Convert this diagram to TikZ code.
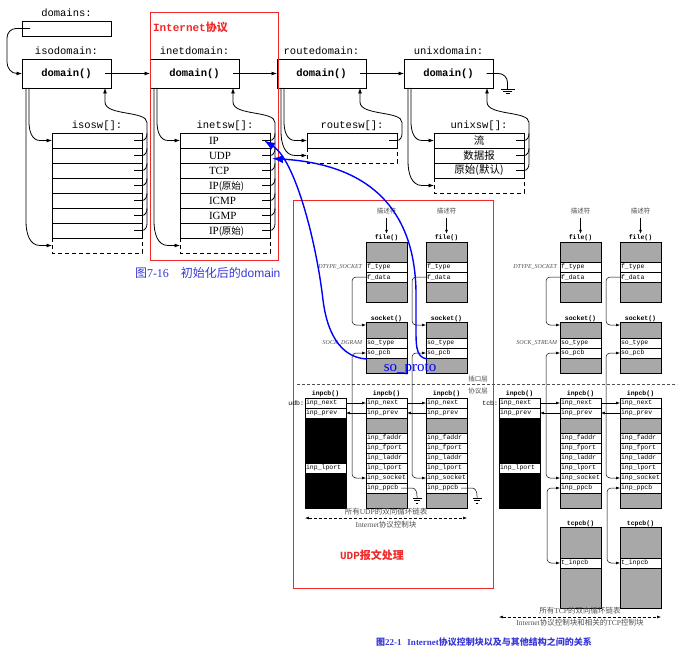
\documentclass[tikz,border=0pt]{standalone}
\usepackage{fontspec}
\setmainfont{Liberation Serif}
\setsansfont{Liberation Sans}
\setmonofont{Liberation Mono}
\newfontfamily\cjk{Noto Sans CJK SC}
\usetikzlibrary{arrows.meta,calc}

\newcommand\fsz[1]{\fontsize{#1}{#1}\selectfont}

\definecolor{frame}{RGB}{240,40,40}
\definecolor{capblue}{RGB}{55,55,215}
\definecolor{texture}{RGB}{168,168,168}
\definecolor{note}{RGB}{80,80,80}

\tikzset{
  every node/.style={inner sep=0pt, outer sep=0pt},
  wire/.style={line width=0.8pt},
  wirearrow/.style={wire, -{Latex[length=5.5pt,width=4pt]}},
  ttlabel/.style={font=\ttfamily\fsz{10.5}, anchor=base},
  dombox/.style={draw, line width=0.8pt, minimum width=89pt, minimum height=29pt, font=\ttfamily\bfseries\fsz{10.5}},
  swrow/.style={draw, line width=0.8pt, minimum width=90pt, minimum height=15pt, anchor=north west},
  swtail/.style={line width=0.8pt, dash pattern=on 4pt off 3pt},
  rowtext/.style={font=\rmfamily\fsz{11}, anchor=base west},
  cell/.style={draw, line width=0.5pt, minimum width=41pt, text width=39pt, inner xsep=1pt, align=left, font=\ttfamily\fsz{6.5}},
  shd/.style={cell, fill=texture},
  blk/.style={cell, fill=black},
  structlbl/.style={font=\ttfamily\bfseries\fsz{6.5}, anchor=base},
  fine/.style={line width=0.5pt},
  finearrow/.style={fine, -{Latex[length=3.8pt,width=2.8pt]}},
  finearrows/.style={fine, {Latex[length=3.8pt,width=2.8pt]}-{Latex[length=3.8pt,width=2.8pt]}},
  desc/.style={font=\cjk\fsz{6.5}, text=note},
  kind/.style={font=\rmfamily\itshape\fsz{6}, text=note, anchor=east},
  ringtext/.style={font=\rmfamily\fsz{7.5}, text=note},
  proto/.style={draw=blue, line width=1.4pt, -{Latex[length=11pt,width=8pt]}},
  redframe/.style={draw=frame, line width=1pt, anchor=north west},
}

% one protocol domain: domain() box, its switch table and the links between them
\newcommand\swgroup[5]{%
  \begin{scope}[shift={(#2,0)}]
    \node[dombox] (#1dom) at (44.5,73.5) {domain()};
    \node[ttlabel] (#1domlbl) at (44.5,55) {#3};
    \node[ttlabel] (#1swlbl) at (75,129) {#4};
    \foreach \i in {1,...,#5} {\node[swrow] (#1\i) at (30,{118+15*\i}) {};}
    \node[swrow, draw=none] (#1tail) at (30,{133+15*#5}) {};
  \end{scope}
  \draw[swtail] (#1tail.north west) -- (#1tail.south west) -- (#1tail.south east) -- (#1tail.north east);
  \foreach \i in {1,...,#5} {\draw[wire] ($(#1\i.east)+(-8,0)$) -- (#1\i.east) to[out=0,in=-90] ++(5,-7);}
  \draw[wirearrow] ($(#1#5.east)+(5,-7)$) -- ($(#11.east)+(5,-18)$)
     .. controls +(0,-12) and +(0,14) .. ($(#1dom.south west)+(83,14)$) -- ($(#1dom.south west)+(83,0)$);
  \draw[wirearrow] ($(#1dom.south west)+(7,0)$) -- ++(0,34) to[out=-90,in=180] ($(#11.west)+(-12,0)$) -- (#11.west);
  \draw[wirearrow] ($(#1dom.south west)+(4,0)$) -- ($(#1tail.west)+(-26,-24)$) to[out=-90,in=180] ($(#1tail.west)+(-12,0)$) -- (#1tail.west);
}

% structure cells
\newcommand\cell[6][cell]{\node[#1, minimum height=#5pt, anchor=north west] (#2) at (#3,#4) {#6};}

\newcommand\filestruct[2]{%
  \node[structlbl] (#1lbl) at (#2+20.5,240) {file()};
  \cell[shd]{#1top}{#2}{242}{20}{}
  \cell{#1type}{#2}{262}{10}{f\_type}
  \cell{#1data}{#2}{272}{10}{f\_data}
  \cell[shd]{#1bot}{#2}{282}{20}{}
}
\newcommand\sockstruct[2]{%
  \node[structlbl] (#1lbl) at (#2+20.5,320) {socket()};
  \cell[shd]{#1top}{#2}{322}{16}{}
  \cell{#1type}{#2}{338}{10}{so\_type}
  \cell{#1pcb}{#2}{348}{10}{so\_pcb}
  \cell[shd]{#1bot}{#2}{358}{15}{}
}
\newcommand\inpcbstruct[2]{%
  \node[structlbl] (#1lbl) at (#2+20.5,395) {inpcb()};
  \cell{#1next}{#2}{398}{10}{inp\_next}
  \cell{#1prev}{#2}{408}{10}{inp\_prev}
  \cell[shd]{#1mid}{#2}{418}{15}{}
  \cell{#1faddr}{#2}{433}{10}{inp\_faddr}
  \cell{#1fport}{#2}{443}{10}{inp\_fport}
  \cell{#1laddr}{#2}{453}{10}{inp\_laddr}
  \cell{#1lport}{#2}{463}{10}{inp\_lport}
  \cell{#1sock}{#2}{473}{10}{inp\_socket}
  \cell{#1ppcb}{#2}{483}{10}{inp\_ppcb}
  \cell[shd]{#1bot}{#2}{493}{15}{}
}
\newcommand\headstruct[2]{%
  \node[structlbl] (#1lbl) at (#2+20.5,395) {inpcb()};
  \cell{#1next}{#2}{398}{10}{inp\_next}
  \cell{#1prev}{#2}{408}{10}{inp\_prev}
  \cell[blk]{#1mid}{#2}{418}{45}{}
  \cell{#1lport}{#2}{463}{10}{inp\_lport}
  \cell[blk]{#1bot}{#2}{473}{35}{}
}
\newcommand\tcpcbstruct[2]{%
  \node[structlbl] (#1lbl) at (#2+20.5,525) {tcpcb()};
  \cell[shd]{#1top}{#2}{527}{31}{}
  \cell{#1inp}{#2}{558}{10}{t\_inpcb}
  \cell[shd]{#1bot}{#2}{568}{40}{}
}
% descriptor -> file -> socket <-> inpcb links of one column
\newcommand\columnlinks[1]{%
  \draw[finearrow] ($(d#1.south)+(0,4)$) -- ($(f#1lbl.north)+(0,-1.5)$);
  \draw[finearrow, rounded corners=4pt] ($(f#1data.west)+(2,0)$) -- ++(-16,0) |- ($(s#1top.west)+(0,-5)$);
  \draw[finearrows, rounded corners=4pt] (s#1pcb.west) -- ++(-14,0) |- (i#1sock.west);
}

\begin{document}
\begin{tikzpicture}[x=1pt,y=-1pt]
\useasboundingbox (0,0) rectangle (679,652);

% ================= domain list after initialisation =================
\node[draw, line width=0.8pt, minimum width=89pt, minimum height=15pt, anchor=north west] (domains) at (22,21) {};
\node[ttlabel] (domainslbl) at (66.5,17) {domains:};

\swgroup{iso}{22}{isodomain:}{isosw[]:}{7}
\swgroup{inet}{150}{inetdomain:}{inetsw[]:}{7}
\swgroup{route}{277}{routedomain:}{routesw[]:}{1}
\swgroup{unix}{404}{unixdomain:}{unixsw[]:}{3}

\draw[wirearrow] ($(domains.west)+(8,0)$) -- ++(-14,0) to[out=180,in=90] (7,38) -- (7,62) to[out=-90,in=180] (17,73.5) -- (isodom.west);
\draw[wirearrow] ($(isodom.center)+(38,0)$) -- (inetdom.west);
\draw[wirearrow] ($(inetdom.center)+(38,0)$) -- (routedom.west);
\draw[wirearrow] ($(routedom.center)+(38,0)$) -- (unixdom.west);

% end of the list
\draw[wire] ($(unixdom.center)+(38,0)$) -- ++(12,0) to[out=0,in=90] ++(9,9) -- ++(0,6.5) coordinate (unixnil);
\draw[wire] ($(unixnil)+(-7,0)$) -- ($(unixnil)+(7,0)$)
            ($(unixnil)+(-4.5,2)$) -- ($(unixnil)+(4.5,2)$)
            ($(unixnil)+(-2,4)$) -- ($(unixnil)+(2,4)$);

% inetsw[] entries
\node[rowtext] (pIP)    at ($(inet1.west)+(29,4)$) {IP};
\node[rowtext] (pUDP)   at ($(inet2.west)+(29,4)$) {UDP};
\node[rowtext] (pTCP)   at ($(inet3.west)+(29,4)$) {TCP};
\node[rowtext] (pRAW)   at ($(inet4.west)+(29,4)$) {IP{\cjk\fsz{9.5}(原始)}};
\node[rowtext] (pICMP)  at ($(inet5.west)+(29,4)$) {ICMP};
\node[rowtext] (pIGMP)  at ($(inet6.west)+(29,4)$) {IGMP};
\node[rowtext] (pRAW2)  at ($(inet7.west)+(29,4)$) {IP{\cjk\fsz{9.5}(原始)}};

% unixsw[] entries
\node[font=\cjk\fsz{10.5}] (uStream) at (unix1.center) {流};
\node[font=\cjk\fsz{10.5}] (uDgram)  at (unix2.center) {数据报};
\node[font=\cjk\fsz{10.5}] (uRaw)    at (unix3.center) {原始(默认)};

% Internet protocol family frame
\node[redframe, minimum width=128pt, minimum height=247pt] (inetframe) at (150,13) {};
\node[font=\ttfamily\bfseries\fsz{11}, text=frame, anchor=base west] (inettitle) at (153,32) {Internet{\cjk\bfseries 协议}};

\node[font=\fsz{12}, text=capblue, anchor=base west] (cap716) at (135,277)
  {{\cjk 图}7-16\hspace{12pt}{\cjk 初始化后的}{\sffamily domain}};

% ================= protocol control blocks =================
\node[redframe, minimum width=200pt, minimum height=387pt] (udpframe) at (293,201) {};
\node[font=\ttfamily\bfseries\fsz{11}, text=frame] (udptitle) at (372,555) {UDP{\cjk\bfseries 报文处理}};

\node[desc] (dA) at (386.5,211) {描述符};
\node[desc] (dB) at (446.5,211) {描述符};
\node[desc] (dC) at (580.5,211) {描述符};
\node[desc] (dD) at (640.5,211) {描述符};

\filestruct{fA}{366}
\filestruct{fB}{426}
\filestruct{fC}{560}
\filestruct{fD}{620}

\sockstruct{sA}{366}
\sockstruct{sB}{426}
\sockstruct{sC}{560}
\sockstruct{sD}{620}

\headstruct{hU}{305}
\inpcbstruct{iA}{366}
\inpcbstruct{iB}{426}
\headstruct{hT}{499}
\inpcbstruct{iC}{560}
\inpcbstruct{iD}{620}

\tcpcbstruct{tC}{560}
\tcpcbstruct{tD}{620}

\node[kind] (dtU) at ($(fAtype.west)+(-4,0)$) {DTYPE\_SOCKET};
\node[kind] (skU) at ($(sAtype.west)+(-4,0)$) {SOCK\_DGRAM};
\node[kind] (dtT) at ($(fCtype.west)+(-3,0)$) {DTYPE\_SOCKET};
\node[kind] (skT) at ($(sCtype.west)+(-3,0)$) {SOCK\_STREAM};

\node[font=\ttfamily\fsz{6.5}, anchor=east] (udb) at ($(hUnext.west)+(-1,0)$) {udb:};
\node[font=\ttfamily\fsz{6.5}, anchor=east] (tcb) at ($(hTnext.west)+(-1,0)$) {tcb:};

% socket layer / protocol layer boundary
\draw[fine, draw=note, dash pattern=on 3pt off 2pt] (297,384) -- (677,384);
\node[desc] (sockLayer)  at (478,379) {插口层};
\node[desc] (protoLayer) at (478,391) {协议层};

\columnlinks{A}
\columnlinks{B}
\columnlinks{C}
\columnlinks{D}

% doubly linked lists
\draw[finearrow] (hUnext.east) -- (iAnext.west);
\draw[finearrow] (iAnext.east) -- (iBnext.west);
\draw[finearrow] (iAprev.west) -- (hUprev.east);
\draw[finearrow] (iBprev.west) -- (iAprev.east);
\draw[finearrow] (hTnext.east) -- (iCnext.west);
\draw[finearrow] (iCnext.east) -- (iDnext.west);
\draw[finearrow] (iCprev.west) -- (hTprev.east);
\draw[finearrow] (iDprev.west) -- (iCprev.east);

% UDP: no protocol-specific block
\draw[fine] ($(iAppcb.east)+(-6,0)$) -- ($(iAppcb.east)+(5,0)$) to[out=0,in=90] ($(iAppcb.east)+(10,8)$) -- ($(iAppcb.east)+(10,10)$) coordinate (nilA);
\draw[fine] ($(iBppcb.east)+(-6,0)$) -- ($(iBppcb.east)+(5,0)$) to[out=0,in=90] ($(iBppcb.east)+(10,8)$) -- ($(iBppcb.east)+(10,10)$) coordinate (nilB);
\foreach \g in {nilA,nilB} {
  \draw[fine] ($(\g)+(-4.5,0)$) -- ($(\g)+(4.5,0)$)
              ($(\g)+(-3,2.5)$) -- ($(\g)+(3,2.5)$)
              ($(\g)+(-1.2,5)$) -- ($(\g)+(1.2,5)$);
}

% TCP: inpcb <-> tcpcb
\draw[finearrows, rounded corners=4pt] (iCppcb.west) -- ++(-13,0) |- (tCinp.west);
\draw[finearrows, rounded corners=4pt] (iDppcb.west) -- ++(-13,0) |- (tDinp.west);

% list extents
\draw[finearrows, dash pattern=on 3pt off 2pt] ($(hUbot.south west)+(0,10)$) -- ($(iBbot.south east)+(0,10)$);
\node[ringtext] (udpRing) at (386,512) {{\cjk 所有}UDP{\cjk 的双向循环链表}};
\node[ringtext] (udpPcb)  at (386,525) {Internet{\cjk 协议控制块}};

\draw[finearrows, dash pattern=on 3pt off 2pt] ($(hTbot.south west |- tDbot.south)+(0,9)$) -- ($(tDbot.south east)+(0,9)$);
\node[ringtext] (tcpRing) at (580,611) {{\cjk 所有}TCP{\cjk 的双向循环链表}};
\node[ringtext] (tcpPcb)  at (580,623) {Internet{\cjk 协议控制块和相关的}TCP{\cjk 控制块}};

\node[font=\bfseries\fsz{9}, text=capblue, anchor=base west] (cap221) at (376,645)
  {{\cjk\bfseries 图}22-1\hspace{6pt}Internet{\cjk\bfseries 协议控制块以及与其他结构之间的关系}};

% so_proto: socket -> protocol switch entry
\node[font=\rmfamily\fsz{15}, text=blue] (soproto) at (410,369) {so\_proto};
\draw[proto] ($(sAbot.north west)+(1,1)$) .. controls (345,358) and (328,340) .. (323,300)
             .. controls (316,240) and (295,160) .. ($(inet1.east)+(-6,0)$);
\draw[proto] ($(sBbot.north west)+(1,1)$) .. controls (415,357) and (416,345) .. (416,320) -- (416,292)
             .. controls (415,220) and (380,165) .. ($(inet2.east)+(2,3)$);

\end{tikzpicture}
\end{document}
